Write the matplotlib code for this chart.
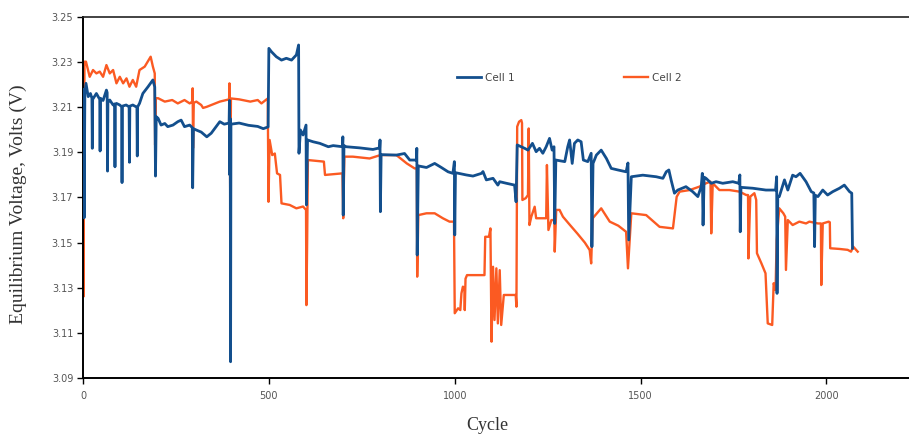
import matplotlib
matplotlib.use('Agg')
import matplotlib.pyplot as plt

# Cell 1 (blue) equilibrium voltage vs cycle
cell1_cycle = [
    0, 2, 3, 5, 8, 14, 20, 24, 25, 26, 36, 45, 46, 47, 54, 63, 65, 66, 67, 72,
    81, 85, 86, 87, 90, 99, 104, 105, 106, 116, 124, 125, 126, 134, 143, 145, 146, 147,
    152, 161, 175, 188, 193, 195, 197, 202, 210, 220, 228, 242, 255, 264, 273, 287,
    294, 295, 297, 305, 318, 333, 345, 368, 380, 393, 394, 395, 396, 397, 398, 420,
    445, 470, 485, 498, 500, 507, 520, 534, 547, 561, 574, 580, 581, 585, 592, 600,
    601, 604, 619, 637, 660, 673, 698, 699, 700, 702, 708, 744, 780, 798, 799, 800,
    802, 843, 865, 879, 897, 898, 899, 902, 924, 946, 964, 982, 995, 999, 1000, 1002,
    1031, 1049, 1072, 1076, 1085, 1103, 1116, 1121, 1139, 1161, 1165, 1168, 1179, 1188,
    1197, 1209, 1219, 1228, 1237, 1246, 1255, 1262, 1267, 1269, 1272, 1296, 1304, 1309,
    1316, 1322, 1331, 1340, 1346, 1358, 1367, 1369, 1372, 1381, 1394, 1408, 1421, 1439,
    1461, 1466, 1468, 1475, 1506, 1542, 1560, 1569, 1576, 1582, 1591, 1600, 1622, 1640,
    1654, 1663, 1666, 1668, 1671, 1676, 1690, 1703, 1721, 1748, 1764, 1767, 1768, 1770,
    1802, 1837, 1863, 1866, 1867, 1869, 1873, 1887, 1896, 1909, 1918, 1929, 1945, 1959,
    1966, 1968, 1970, 1977, 1990, 2003, 2017, 2035, 2048, 2062, 2068, 2070,
]
cell1_volt = [
    3.2100, 3.2180, 3.1610, 3.2160, 3.2206, 3.2147, 3.2161, 3.2140, 3.1918, 3.2135,
    3.2161, 3.2135, 3.1906, 3.2140, 3.2130, 3.2176, 3.2165, 3.1817, 3.2120, 3.2132,
    3.2110, 3.2115, 3.1836, 3.2110, 3.2117, 3.2110, 3.2102, 3.1766, 3.2105, 3.2110,
    3.2102, 3.1856, 3.2105, 3.2110, 3.2102, 3.2100, 3.1884, 3.2102, 3.2117, 3.2161,
    3.2191, 3.2221, 3.2190, 3.1795, 3.2058, 3.2051, 3.2021, 3.2028, 3.2014, 3.2021,
    3.2036, 3.2043, 3.2014, 3.2021, 3.2010, 3.1743, 3.2005, 3.1999, 3.1990, 3.1969,
    3.1985, 3.2036, 3.2025, 3.2030, 3.2130, 3.1800, 3.2050, 3.0972, 3.2025, 3.2030,
    3.2020, 3.2015, 3.2005, 3.2013, 3.2361, 3.2346, 3.2324, 3.2309, 3.2317, 3.2309,
    3.2332, 3.2376, 3.1896, 3.1999, 3.1977, 3.2021, 3.1667, 3.1955, 3.1947, 3.1940,
    3.1925, 3.1930, 3.1925, 3.1969, 3.1622, 3.1930, 3.1925, 3.1920, 3.1913, 3.1920,
    3.1955, 3.1637, 3.1890, 3.1888, 3.1895, 3.1866, 3.1866, 3.1918, 3.1445, 3.1840,
    3.1833, 3.1851, 3.1833, 3.1814, 3.1807, 3.1859, 3.1534, 3.1810, 3.1800, 3.1795,
    3.1807, 3.1815, 3.1778, 3.1785, 3.1755, 3.1770, 3.1763, 3.1755, 3.1681, 3.1933,
    3.1925, 3.1918, 3.1910, 3.1940, 3.1903, 3.1918, 3.1896, 3.1925, 3.1962, 3.1910,
    3.1925, 3.1585, 3.1866, 3.1859, 3.1925, 3.1955, 3.1851, 3.1940, 3.1955, 3.1947,
    3.1866, 3.1859, 3.1896, 3.1482, 3.1851, 3.1888, 3.1910, 3.1873, 3.1829, 3.1822,
    3.1814, 3.1853, 3.1512, 3.1792, 3.1799, 3.1792, 3.1785, 3.1814, 3.1822, 3.1778,
    3.1719, 3.1733, 3.1748, 3.1726, 3.1704, 3.1748, 3.1807, 3.1578, 3.1790, 3.1785,
    3.1763, 3.1770, 3.1763, 3.1770, 3.1763, 3.1800, 3.1548, 3.1745, 3.1741, 3.1733,
    3.1733, 3.1792, 3.1275, 3.1704, 3.1704, 3.1778, 3.1733, 3.1799, 3.1792, 3.1807,
    3.1770, 3.1726, 3.1720, 3.1482, 3.1710, 3.1704, 3.1733, 3.1711, 3.1726, 3.1741,
    3.1755, 3.1726, 3.1719, 3.1475,
]

# Cell 2 (orange)
cell2_cycle = [
    0, 1, 4, 8, 18, 27, 36, 45, 54, 63, 72, 81, 90, 99, 108, 117, 125, 134, 143, 152,
    166, 182, 188, 193, 194, 196, 202, 220, 240, 255, 273, 287, 294, 295, 296, 298,
    305, 318, 323, 333, 368, 393, 394, 396, 398, 420, 450, 470, 480, 497, 499, 502,
    509, 516, 522, 530, 534, 556, 574, 592, 600, 601, 603, 605, 628, 648, 651, 698,
    700, 703, 726, 771, 800, 843, 871, 892, 898, 899, 902, 924, 946, 968, 986, 998,
    1000, 1009, 1015, 1018, 1022, 1026, 1027, 1029, 1033, 1049, 1080, 1082, 1092, 1096,
    1099, 1103, 1107, 1112, 1116, 1121, 1125, 1132, 1164, 1166, 1168, 1173, 1179, 1181,
    1182, 1191, 1197, 1199, 1201, 1206, 1215, 1219, 1246, 1248, 1252, 1260, 1268, 1269,
    1273, 1282, 1291, 1309, 1330, 1350, 1363, 1367, 1371, 1394, 1417, 1440, 1461, 1466,
    1475, 1515, 1551, 1587, 1597, 1605, 1632, 1658, 1676, 1688, 1690, 1694, 1712, 1739,
    1766, 1784, 1789, 1790, 1795, 1806, 1811, 1813, 1825, 1836, 1842, 1854, 1858, 1863,
    1866, 1873, 1884, 1889, 1891, 1896, 1909, 1927, 1945, 1954, 1977, 1985, 1986, 1990,
    2006, 2009, 2010, 2035, 2057, 2066, 2072, 2084,
]
cell2_volt = [
    3.2180, 3.1260, 3.2302, 3.2302, 3.2235, 3.2265, 3.2250, 3.2258, 3.2235, 3.2287,
    3.2250, 3.2265, 3.2206, 3.2235, 3.2206, 3.2228, 3.2191, 3.2221, 3.2191, 3.2265,
    3.2280, 3.2324, 3.2280, 3.2250, 3.1933, 3.2140, 3.2140, 3.2125, 3.2132, 3.2117,
    3.2132, 3.2117, 3.2125, 3.2184, 3.1919, 3.2120, 3.2125, 3.2110, 3.2097, 3.2102,
    3.2125, 3.2135, 3.2206, 3.1718, 3.2139, 3.2135, 3.2125, 3.2132, 3.2117, 3.2139,
    3.1681, 3.1955, 3.1888, 3.1895, 3.1807, 3.1800, 3.1674, 3.1667, 3.1652, 3.1660,
    3.1645, 3.1223, 3.1512, 3.1866, 3.1862, 3.1859, 3.1800, 3.1807, 3.1608, 3.1881,
    3.1881, 3.1873, 3.1888, 3.1888, 3.1851, 3.1829, 3.1829, 3.1349, 3.1622, 3.1630,
    3.1630, 3.1608, 3.1593, 3.1593, 3.1187, 3.1209, 3.1201, 3.1275, 3.1305, 3.1290,
    3.1201, 3.1340, 3.1356, 3.1356, 3.1356, 3.1526, 3.1526, 3.1563, 3.1061, 3.1393,
    3.1157, 3.1386, 3.1142, 3.1378, 3.1135, 3.1268, 3.1268, 3.1216, 3.2014, 3.2036,
    3.2043, 3.2030, 3.1689, 3.1697, 3.1711, 3.2006, 3.1578, 3.1615, 3.1659, 3.1608,
    3.1608, 3.1844, 3.1556, 3.1600, 3.1600, 3.1460, 3.1645, 3.1645, 3.1615, 3.1580,
    3.1540, 3.1500, 3.1467, 3.1408, 3.1608, 3.1652, 3.1593, 3.1575, 3.1548, 3.1386,
    3.1630, 3.1622, 3.1570, 3.1563, 3.1703, 3.1726, 3.1733, 3.1748, 3.1763, 3.1770,
    3.1541, 3.1763, 3.1733, 3.1733, 3.1726, 3.1711, 3.1711, 3.1430, 3.1704, 3.1719,
    3.1689, 3.1453, 3.1408, 3.1364, 3.1142, 3.1135, 3.1320, 3.1290, 3.1512, 3.1652,
    3.1630, 3.1615, 3.1379, 3.1600, 3.1578, 3.1593, 3.1585, 3.1593, 3.1585, 3.1585,
    3.1312, 3.1585, 3.1593, 3.1590, 3.1475, 3.1472, 3.1468, 3.1460, 3.1482, 3.1460,
]

y_ticks = [3.09, 3.11, 3.13, 3.15, 3.17, 3.19, 3.21, 3.23, 3.25]
x_ticks = [0, 500, 1000, 1500, 2000]

blue = '#134f8d'
orange = '#fb5a22'

fig = plt.figure(figsize=(9.09, 4.36), dpi=100)
ax = fig.add_axes([83 / 909, 1 - 378 / 436, 1 - 83 / 909, (378 - 17) / 436])

l2, = ax.plot(cell2_cycle, cell2_volt, color=orange, linewidth=1.7, zorder=2, label='Cell 2')
l1, = ax.plot(cell1_cycle, cell1_volt, color=blue, linewidth=2.0, zorder=3, label='Cell 1')

ax.set_xlim(0, 2222)
ax.set_ylim(3.09, 3.25)
ax.set_yticks(y_ticks)
ax.set_yticklabels([f'{v:.2f}' for v in y_ticks])
ax.set_xticks(x_ticks)

ax.spines['right'].set_visible(False)
for side in ('left', 'bottom'):
    ax.spines[side].set_linewidth(1.4)
    ax.spines[side].set_color('black')
ax.spines['top'].set_linewidth(1.2)
ax.spines['top'].set_color('#222222')

ax.tick_params(axis='both', direction='out', length=4, width=1.0,
               labelsize=7, labelcolor='#555555', color='black')
ax.tick_params(axis='y', pad=3)
ax.tick_params(axis='x', pad=5)

serif = ['Liberation Serif', 'DejaVu Serif']
ax.set_ylabel('Equilibrium Voltage, Volts (V)', fontsize=14, family=serif, color='#333333')
ax.yaxis.set_label_coords(-56 / 826, (378 - 204) / 361)
ax.set_xlabel('Cycle', fontsize=13, family=serif, color='#333333')
ax.xaxis.set_label_coords((487 - 83) / 826, -39 / 361)

ax.legend(handles=[l1, l2], ncol=2, frameon=False, loc='center',
          bbox_to_anchor=((569 - 83) / 826, (378 - 78) / 361),
          fontsize=7.5, handlelength=2.3, handletextpad=0.4, columnspacing=10.5,
          labelcolor='#444444')

fig.savefig('out.png', dpi=100)
